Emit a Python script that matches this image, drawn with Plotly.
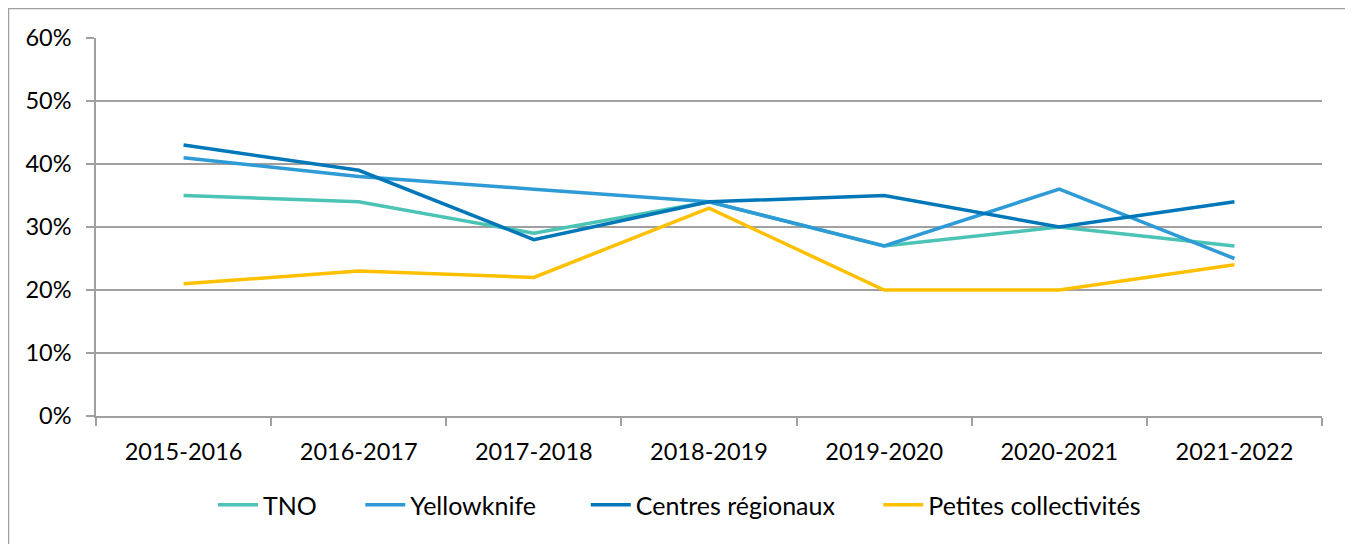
import plotly.graph_objects as go

categories = ["2015-2016", "2016-2017", "2017-2018", "2018-2019", "2019-2020", "2020-2021", "2021-2022"]
tno = [0.35, 0.34, 0.29, 0.34, 0.27, 0.30, 0.27]
yellowknife = [0.41, 0.38, 0.36, 0.34, 0.27, 0.36, 0.25]
centres = [0.43, 0.39, 0.28, 0.34, 0.35, 0.30, 0.34]
petites = [0.21, 0.23, 0.22, 0.33, 0.20, 0.20, 0.24]
series_names = ["TNO", "Yellowknife", "Centres régionaux", "Petites collectivités"]
series_colors = ["#4BC3B5", "#2E9AD6", "#0077B8", "#FFC000"]

legend_pads = [6, 7, 6, 0]
fig = go.Figure()
for name, vals, color, pad in zip(series_names, [tno, yellowknife, centres, petites], series_colors, legend_pads):
    fig.add_trace(go.Scatter(x=categories, y=vals, name=name + "\u00a0" * pad, mode="lines",
                             line=dict(color=color, width=3.5)))

# page body has an 8px offset
OFF = 8
W, H = 1353 - OFF, 544 - OFF
L, R, T, B = 96 - OFF, 31, 38 - OFF, 128
pw, ph = W - L - R, H - T - B

def px(x):
    return (x - OFF - L) / pw

def py(y):
    return (H - B - (y - OFF)) / ph

fig.update_layout(
    width=W, height=H,
    margin=dict(l=L, r=R, t=T, b=B, autoexpand=False),
    paper_bgcolor="white", plot_bgcolor="white",
    font=dict(family="Lato, Open Sans, sans-serif", size=23.5, color="#000000"),
    showlegend=True,
    legend=dict(orientation="h", x=px(213), xanchor="left", y=py(505), yanchor="middle",
                font=dict(size=25), itemwidth=40, tracegroupgap=0),
    xaxis=dict(type="category", showgrid=False, showline=True, linecolor="#A0A0A0", linewidth=1.5,
               ticks="outside", tickson="boundaries", ticklen=8, tickcolor="#A0A0A0",
               tickwidth=1.5, ticklabelstandoff=14, range=[-0.5, 6.5]),
    yaxis=dict(range=[0, 0.6], tickvals=[0, 0.1, 0.2, 0.3, 0.4, 0.5, 0.6],
               tickformat=".0%", showgrid=True, gridcolor="#A0A0A0", gridwidth=1.5,
               showline=True, linecolor="#A0A0A0", linewidth=1.5, zeroline=False,
               ticks="outside", ticklen=8, tickcolor="#A0A0A0", tickwidth=1.5,
               ticklabelstandoff=10),
    shapes=[dict(type="rect", xref="paper", yref="paper",
                 x0=px(8.5), x1=px(1352), y0=py(560), y1=py(8.5),
                 line=dict(color="#A0A0A0", width=1.5), fillcolor="rgba(0,0,0,0)", layer="below")],
)

fig.write_html("out.html")
